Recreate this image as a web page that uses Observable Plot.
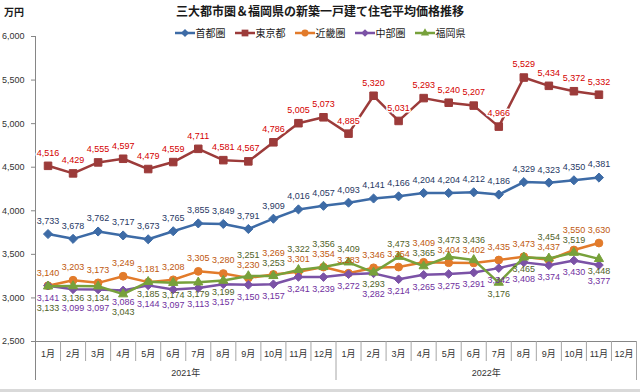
<!DOCTYPE html>
<html><head><meta charset="utf-8">
<script src="https://cdn.jsdelivr.net/npm/d3@7"></script>
<script src="https://cdn.jsdelivr.net/npm/@observablehq/plot@0.6"></script>
<style>
html,body{margin:0;padding:0;background:#fff;}
#wrap{position:relative;width:640px;height:392px;overflow:hidden;}
#chart{position:absolute;left:0;top:0;}
#title{position:absolute;top:3px;left:0;width:640px;text-align:center;font:bold 12px "Noto Sans CJK JP",sans-serif;color:#1a1a1a;line-height:16px;}
#unit{position:absolute;left:4px;top:5px;font:bold 10px "Noto Sans CJK JP",sans-serif;color:#1a1a1a;line-height:14px;}
#legend{position:absolute;top:26px;left:0;width:640px;display:flex;justify-content:center;gap:9px;font:10px "Noto Sans CJK JP",sans-serif;color:#1a1a1a;line-height:14px;}
.item{display:flex;align-items:center;gap:1px;}
#bottomline{position:absolute;left:0;bottom:0;width:640px;height:3px;background:#d9d9d9;}
</style>
</head><body>
<div id="wrap">
  <div id="chart"></div>
  <div id="unit">万円</div>
  <div id="title">三大都市圏＆福岡県の新築一戸建て住宅平均価格推移</div>
  <div id="legend"></div>
  <div id="bottomline"></div>
</div>
<script>
// ---- data ----
const monthLabels = ["1月","2月","3月","4月","5月","6月","7月","8月","9月","10月","11月","12月"];
const yearLabels = ["2021年","2022年"];
const seriesNames = ["首都圏","東京都","近畿圏","中部圏","福岡県"];
const shutoken = [3733,3678,3762,3717,3673,3765,3855,3849,3791,3909,4016,4057,4093,4141,4166,4204,4204,4212,4186,4329,4323,4350,4381];
const tokyo    = [4516,4429,4555,4597,4479,4559,4711,4581,4567,4786,5005,5073,4885,5320,5031,5293,5240,5207,4966,5529,5434,5372,5332];
const kinki    = [3140,3203,3173,3249,3181,3208,3305,3280,3230,3269,3301,3354,3283,3346,3354,3409,3404,3402,3435,3473,3437,3550,3630];
const chubu    = [3141,3099,3097,3086,3144,3097,3113,3157,3150,3157,3241,3239,3272,3282,3214,3265,3275,3291,3342,3408,3374,3430,3377];
const fukuoka  = [3133,3136,3134,3043,3185,3174,3179,3199,3251,3253,3322,3356,3409,3293,3473,3365,3473,3436,3176,3465,3454,3519,3448];
const yTicks = [2500,3000,3500,4000,4500,5000,5500,6000];

// ---- styles ----
const FONT = '"Liberation Sans","Noto Sans CJK JP",sans-serif';
const styles = {
  "首都圏": {line:"#3d6ba6", label:"#1f3864", symbol:"diamond2", r:4.1},
  "東京都": {line:"#9c3b3a", label:"#d40000", symbol:"square2", r:4.8},
  "近畿圏": {line:"#e27b2b", label:"#c0580f", symbol:"circle", r:3.9},
  "中部圏": {line:"#7b52a6", label:"#7030a0", symbol:"diamond2", r:3.9},
  "福岡県": {line:"#77a13b", label:"#4f6228", symbol:"triangle2", r:4.4}
};
const values = {"首都圏":shutoken,"東京都":tokyo,"近畿圏":kinki,"中部圏":chubu,"福岡県":fukuoka};

const W=640, H=392, mt=36, mb=51, ml=35, mr=4;
const yMin = yTicks[0], yMax = yTicks[yTicks.length-1];
const pxPerUnit = (H - mt - mb) / (yMax - yMin);
const nCat = monthLabels.length * yearLabels.length;

const rows = [];
for (const s of seriesNames) values[s].forEach((v,i)=>rows.push({s, i, v}));

// label placement (pixel offsets converted to data units)
const labelRows = [];
const ABOVE = -13, BELOW = 12, GAP = 10;
for (const s of ["首都圏","東京都"]) values[s].forEach((v,i)=>labelRows.push({s,i,v,ly: v - ABOVE/pxPerUnit}));
kinki.forEach((_,i)=>{
  const o = kinki[i], g = fukuoka[i], p = chubu[i];
  const ypx = v => (yMax - v) * pxPerUnit;
  const gUp = (g > o - 50 && g - p > 85) || g > o + 15;
  const items = [
    {s:"近畿圏", v:o, py: ypx(o)+ABOVE, up:true},
    {s:"福岡県", v:g, py: ypx(g)+(gUp?ABOVE:BELOW), up:gUp},
    {s:"中部圏", v:p, py: ypx(p)+BELOW, up:false}
  ];
  const up = items.filter(d=>d.up).sort((a,b)=>b.py-a.py);
  for (let k=1;k<up.length;k++) up[k].py = Math.min(up[k].py, up[k-1].py-GAP);
  const dn = items.filter(d=>!d.up).sort((a,b)=>a.py-b.py);
  for (let k=1;k<dn.length;k++) dn[k].py = Math.max(dn[k].py, dn[k-1].py+GAP);
  for (const d of items) labelRows.push({s:d.s, i, v:d.v, ly: yMax - d.py/pxPerUnit});
});

const fmt = d3.format(",");
const boundaries = d3.range(1, nCat+1).map(k=>k-0.5);
const monthBounds = boundaries.filter(b => (b+0.5) % 12 !== 0);
const yearBounds = boundaries.filter(b => (b+0.5) % 12 === 0);

const marks = [
  Plot.axisY({ticks: yTicks, tickFormat: fmt, tickSize: 4, tickPadding: 7, stroke:"#868686", fill:"#333", fontSize: 9}),
  Plot.ruleX([-0.5], {stroke:"#868686", insetBottom: -39}),
  Plot.ruleY([yMin], {stroke:"#868686"}),
  Plot.ruleX(monthBounds, {y1: yMin, y2: yMin, insetBottom: -20, stroke:"#a6a6a6"}),
  Plot.ruleX(yearBounds, {y1: yMin, y2: yMin, insetBottom: -39, stroke:"#a6a6a6"}),
  Plot.text(d3.range(nCat), {x: d=>d, y: yMin, text: d=>monthLabels[d%12], dy: 13, fontSize: 9, fill:"#333"}),
  Plot.text(yearLabels, {x: (d,k)=>k*12+5.5, y: yMin, text: d=>d, dy: 32, fontSize: 9, fill:"#333"})
];
for (const s of seriesNames) {
  const st = styles[s];
  const data = rows.filter(r=>r.s===s);
  marks.push(Plot.line(data, {x:"i", y:"v", stroke: st.line, strokeWidth: 2.5, strokeLinejoin:"round"}));
  marks.push(Plot.dot(data, {x:"i", y:"v", symbol: st.symbol, r: st.r, fill: st.line, stroke: st.line, strokeWidth: 1}));
}
for (const s of seriesNames) {
  const st = styles[s];
  const data = labelRows.filter(r=>r.s===s);
  const halo = s === "東京都" ? {stroke:"white", strokeWidth: 3} : {};
  marks.push(Plot.text(data, {x:"i", y:"ly", text: d=>fmt(d.v), fill: st.label, fontSize: 9, ...halo}));
}

const chart = Plot.plot({
  width: W, height: H, marginTop: mt, marginBottom: mb, marginLeft: ml, marginRight: mr,
  style: {fontFamily: FONT, fontSize: "9px", background: "transparent", overflow: "visible"},
  x: {type: "linear", domain: [-0.5, nCat-0.5], axis: null},
  y: {domain: [yMin, yMax], axis: null},
  marks
});
document.getElementById("chart").appendChild(chart);

// legend
const legend = d3.select("#legend");
for (const s of seriesNames) {
  const st = styles[s];
  const item = legend.append("div").attr("class","item");
  const svg = item.append("svg").attr("width", 20).attr("height", 10);
  svg.append("line").attr("x1",0).attr("x2",20).attr("y1",5).attr("y2",5).attr("stroke",st.line).attr("stroke-width",2.5);
  const sym = {diamond2: d3.symbolDiamond2, square2: d3.symbolSquare2, circle: d3.symbolCircle, triangle2: d3.symbolTriangle2}[st.symbol];
  svg.append("path").attr("transform","translate(10,5)").attr("d", d3.symbol(sym, Math.PI*st.r*st.r*0.8)()).attr("fill",st.line);
  item.append("span").text(s);
}
</script>
</body></html>
